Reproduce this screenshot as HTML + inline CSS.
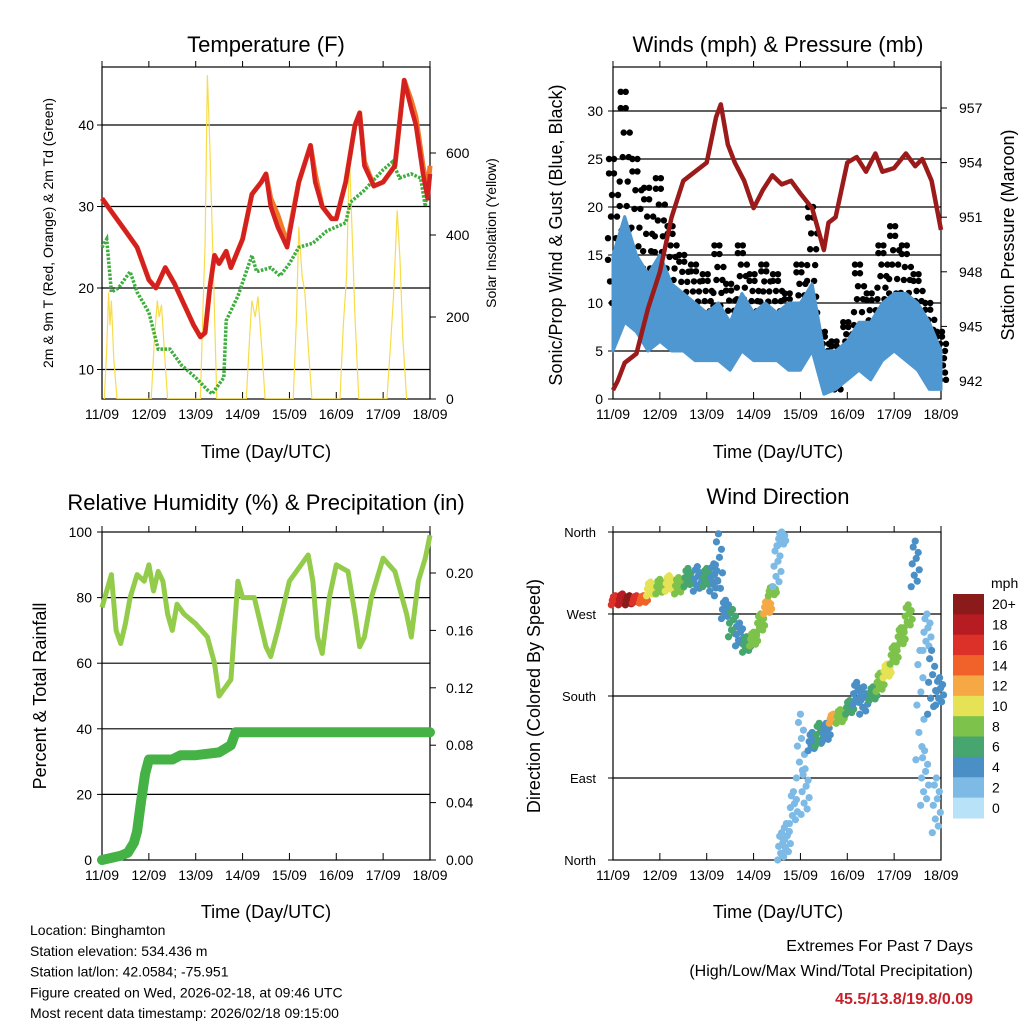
<!DOCTYPE html>
<html><head><meta charset="utf-8">
<style>
html,body{margin:0;padding:0;background:#fff;}
svg{display:block;font-family:"Liberation Sans",Arial,sans-serif;}
</style></head>
<body>
<svg id="chart" width="1024" height="1024" viewBox="0 0 1024 1024" xmlns="http://www.w3.org/2000/svg">
<rect width="1024" height="1024" fill="#fff"/>
<g id="layer"></g>
</svg>
<script>
// ---------- DATA ----------
const dayLabels = ["11/09","12/09","13/09","14/09","15/09","16/09","17/09","18/09"];
const tempTicks = [10,20,30,40];
const solarTicks = [0,200,400,600];
const windTicks = [0,5,10,15,20,25,30];
const presTicks = [942,945,948,951,954,957];
const rhTicks = [0,20,40,60,80,100];
const precTicks = ["0.00","0.04","0.08","0.12","0.16","0.20"];
const dirTicks = ["North","East","South","West","North"];
const speedLabels = ["20+","18","16","14","12","10","8","6","4","2","0"];
const speedColors = ["#8b1a1a","#b81c23","#dc3128","#f0622a","#f5a843","#e6e256","#7dc24b","#47a56f","#4a8fc6","#7dbbe6","#b8e2f8"];

const tempT = [0,0.25,0.5,0.75,1.0,1.15,1.35,1.55,1.75,1.95,2.1,2.2,2.3,2.4,2.5,2.65,2.75,3.0,3.2,3.4,3.5,3.6,3.75,3.95,4.2,4.45,4.55,4.7,4.9,5.0,5.2,5.4,5.5,5.6,5.8,6.0,6.25,6.45,6.6,6.7,6.85,6.95,7.0];
const tempV = [31,29,27,25,21,20,22.5,20.5,18,15.5,14,14.5,20,24,23,24.5,22.5,26,31.5,33,34,30,27.5,25,33,37.5,33,30,28.5,28.5,33,40,41.5,35,32.5,33,35,45.5,42,40,34,31,34];
const temp9V = [31,29,27,25,21,20,22.5,20.5,18,15.5,14,14.5,20,24,23,24.5,22.5,26,31.5,33,34,31,29,25.5,33,37.5,34,30,28.5,28.5,33,40,41.5,35.5,32.5,33,35,45.5,43,41,35,32,35];
const dewT = [0,0.1,0.2,0.35,0.6,0.75,1.0,1.2,1.45,1.7,2.0,2.25,2.35,2.6,2.65,2.9,3.2,3.3,3.6,3.8,4.0,4.2,4.5,4.8,5.2,5.3,5.6,6.0,6.2,6.35,6.6,6.8,6.9,7.0];
const dewV = [25,26,19.5,20,22,19.5,17,12.5,12.5,10.5,9,7.5,7,9,16,19,24,22,22.5,21.5,23,25,25.5,27,28,30.5,32,34.5,35.5,33.5,34,33.5,30,35];
const solarT = [0.05,0.1,0.14,0.17,0.2,0.25,0.32,1.05,1.12,1.18,1.22,1.27,1.33,1.4,2.1,2.15,2.2,2.25,2.3,2.38,2.45,3.08,3.15,3.2,3.27,3.33,3.4,3.48,4.08,4.15,4.2,4.27,4.33,4.4,4.48,5.08,5.15,5.22,5.28,5.34,5.4,5.48,6.08,6.15,6.22,6.3,6.36,6.42,6.5];
const solarV = [0,120,260,180,240,100,0,0,150,240,200,230,120,0,0,200,380,790,620,300,0,0,150,240,200,250,140,0,0,200,420,300,260,130,0,0,180,300,600,400,200,0,0,120,250,460,340,150,0];

const windT = [0,0.25,0.5,0.75,1.0,1.25,1.5,1.75,2.0,2.25,2.5,2.75,3.0,3.25,3.5,3.75,4.0,4.25,4.5,4.75,5.0,5.25,5.5,5.75,6.0,6.25,6.5,6.75,7.0];
const windLo = [5,8,7,5,6,5,5,4,4,4,3,5,4,4,4,3,3,5,0.5,1,2,3,2,4,5,4,3,1,1];
const windHi = [15,19,15,13,15,12,11,10,9,10,8,11,9,10,9,10,10,12,5,5,6,8,8,10,11,11,10,8,5];
const gustLo = [10,15,12,10,12,10,8,7,6,7,5,8,6,7,6,5,6,9,2,1,3,5,4,8,8,7,6,3,2];
const gustHi = [25,32,25,22,23,18,15,14,13,16,12,16,13,14,13,11,14,20,7,6,8,14,11,16,18,16,13,10,7];
const presT = [0,0.1,0.25,0.5,0.75,1.0,1.25,1.5,1.75,2.0,2.2,2.3,2.45,2.6,2.8,3.0,3.2,3.4,3.6,3.8,4.0,4.25,4.5,4.6,4.75,5.0,5.2,5.4,5.6,5.75,6.0,6.25,6.45,6.6,6.8,7.0];
const presV = [941.5,942,943,943.5,946,948,951,953,953.5,954,956.5,957.2,955,954,953,951.5,952.5,953.3,952.8,953,952.3,951.5,949.2,950.7,951,954,954.3,953.5,954.5,953.5,953.7,954.5,953.8,954.2,953,950.3];

const rhT = [0,0.1,0.2,0.3,0.4,0.5,0.6,0.75,0.9,1.0,1.1,1.2,1.3,1.4,1.5,1.6,1.75,2.0,2.25,2.4,2.5,2.6,2.75,2.85,2.9,3.0,3.25,3.5,3.6,3.75,4.0,4.25,4.4,4.5,4.6,4.7,4.85,5.0,5.25,5.4,5.5,5.6,5.75,6.0,6.25,6.5,6.6,6.75,6.9,7.0];
const rhV = [77,82,87,70,66,72,80,87,85,90,82,88,85,75,70,78,75,72,68,60,50,52,55,75,85,80,80,65,62,70,85,90,93,85,68,63,80,90,88,75,65,68,80,92,88,75,68,85,92,99];
const precT = [0,0.4,0.55,0.68,0.75,0.83,0.92,1.0,1.5,1.68,2.0,2.5,2.75,2.85,7.0];
const precV = [0,0.003,0.005,0.012,0.02,0.04,0.06,0.07,0.07,0.073,0.073,0.075,0.08,0.089,0.089];

const dirT  = [0.05,0.2,0.35,0.5,0.65,0.8,1.0,1.2,1.4,1.6,1.8,2.0,2.15,2.25,2.4,2.55,2.7,2.85,3.0,3.15,3.3,3.4,3.5,3.6,3.6,3.7,3.85,4.0,4.1,4.25,4.4,4.55,4.7,4.85,5.05,5.2,5.35,5.55,5.7,5.85,6.0,6.15,6.3,6.45,6.55,6.65,6.7,6.8,6.9,6.97];
const dirLo = [280,280,280,282,282,290,292,295,292,300,295,300,295,290,265,245,235,228,235,250,270,290,300,345,0,5,40,90,50,120,125,130,150,150,160,170,160,175,185,200,215,235,255,300,110,60,230,160,30,170];
const dirHi = [290,292,290,290,290,305,308,312,310,320,322,320,325,358,285,275,260,245,250,270,285,300,345,360,30,40,75,160,100,140,150,150,160,165,175,195,190,190,205,215,235,255,280,350,230,120,270,230,90,200];
const dirSpd= [16,18,20,16,14,10,8,10,8,6,4,6,4,4,4,6,4,6,8,8,12,8,2,2,2,2,2,2,2,4,6,4,12,8,6,4,4,6,8,10,8,8,8,4,2,2,2,4,2,4];

// ---------- HELPERS ----------
const NS = "http://www.w3.org/2000/svg";
const layer = document.getElementById("layer");
function mk(tag, attrs, parent){ const e=document.createElementNS(NS,tag); for(const k in attrs) e.setAttribute(k,attrs[k]); (parent||layer).appendChild(e); return e; }
function txt(s, x, y, size, anchor, parent, rot, weight, fill){
  const t = mk("text",{x:x,y:y,"font-size":size,"text-anchor":anchor||"middle",fill:fill||"#000"},parent);
  if(rot) t.setAttribute("transform","rotate("+rot+" "+x+" "+y+")");
  if(weight) t.setAttribute("font-weight",weight);
  t.textContent = s; return t;
}
function pathD(xs, ys){ return xs.map((v,i)=>(i?"L":"M")+v.toFixed(1)+","+ys[i].toFixed(1)).join(""); }

// Panel geometry
const P = {
  temp:{x0:102,x1:430,y0:67,y1:399},
  wind:{x0:613,x1:941,y0:67,y1:399},
  rh:{x0:102,x1:430,y0:532,y1:860},
  dir:{x0:613,x1:941,y0:532,y1:860}
};
function xs(p,t){ return p.x0 + t*(p.x1-p.x0)/7; }
const yTemp = v => 125 + (40-v)*8.15;
const ySolar = v => 399 - v*0.41;
const yWind = v => 399 - v*9.6;
const yPres = v => 381 - (v-942)*18.2;
const yRh = v => 860 - v*3.28;
const yPrec = v => 860 - v*1435;
const yDir = v => 860 - v*328/360;

function frame(p, name){
  const g = mk("g",{});
  
  
  for(let d=0; d<=7; d++){
    const x = xs(p,d);
    mk("line",{x1:x,y1:p.y1,x2:x,y2:p.y1-7,stroke:"#000","stroke-width":1},g);
    mk("line",{x1:x,y1:p.y0,x2:x,y2:p.y0-6,stroke:"#000","stroke-width":1},g);
    const lbl = txt(dayLabels[d], x, p.y1+20, 14, "middle", g);
    
    
  }
  return g;
}
function border(p, g){ mk("rect",{x:p.x0,y:p.y0,width:p.x1-p.x0,height:p.y1-p.y0,fill:"none",stroke:"#000","stroke-width":1.2},g); }
function gridH(p, y, g){ mk("line",{x1:p.x0,y1:y,x2:p.x1,y2:y,stroke:"#000","stroke-width":1.2},g); }
function leftTick(p,y,g){ mk("line",{x1:p.x0,y1:y,x2:p.x0-5,y2:y,stroke:"#000"},g); }
function rightTick(p,y,g){ mk("line",{x1:p.x1,y1:y,x2:p.x1+6,y2:y,stroke:"#000"},g); }

// ---------- PANEL 1: TEMPERATURE ----------
(function(){
  const p=P.temp;
  const g=frame(p,"temperature");
  tempTicks.forEach(v=>{ const y=yTemp(v); gridH(p,y,g); leftTick(p,y,g);
    const l=txt(String(v), p.x0-8, y+5, 14, "end", g);
    
     });
  solarTicks.forEach(v=>{ const y=ySolar(v); rightTick(p,y,g);
    const l=txt(String(v), p.x1+16, y+5, 14, "start", g);
    
     });
  const clip = mk("clipPath",{id:"c1"}); mk("rect",{x:p.x0,y:p.y0,width:p.x1-p.x0,height:p.y1-p.y0},clip);
  const s = mk("path",{d:pathD(solarT.map(t=>xs(p,t)), solarV.map(ySolar)),fill:"none",stroke:"#f7dc4a","stroke-width":1.2,"clip-path":"url(#c1)"});
  
  
  const d = mk("path",{d:pathD(dewT.map(t=>xs(p,t)), dewV.map(yTemp)),fill:"none",stroke:"#3dae3d","stroke-width":3.5,"stroke-dasharray":"2.5 1.5"});
  
  
  const o = mk("path",{d:pathD(tempT.map(t=>xs(p,t)), temp9V.map(yTemp)),fill:"none",stroke:"#f07a28","stroke-width":5,"stroke-linejoin":"round"});
  
  
  const r = mk("path",{d:pathD(tempT.map(t=>xs(p,t)), tempV.map(yTemp)),fill:"none",stroke:"#d42020","stroke-width":4.5,"stroke-linejoin":"round"});
  
  
  border(p,g);
  const t1=txt("Temperature (F)",266,52,22,"middle");
  
  
  const xl=txt("Time (Day/UTC)",266,458,18,"middle");
  
  
  const yl=txt("2m & 9m T (Red, Orange) & 2m Td (Green)",53,233,14,"middle",null,-90);
  
  
  const yr=txt("Solar Insolation (Yellow)",496,233,14,"middle",null,-90);
  
  
})();

// ---------- PANEL 2: WINDS ----------
(function(){
  const p=P.wind;
  const g=frame(p,"winds");
  windTicks.forEach(v=>{ const y=yWind(v); if(v>0) gridH(p,y,g); leftTick(p,y,g);
    const l=txt(String(v), p.x0-10, y+5, 14, "end", g);
    
     });
  presTicks.forEach(v=>{ const y=yPres(v); rightTick(p,y,g);
    const l=txt(String(v), p.x1+18, y+5, 14, "start", g);
    
     });
  // gust dots
  const gg = mk("g",{});
  
  
  const fr=[0,0.15,0.3,0.45,0.6,0.75,0.9,1.0];
  const off=[-5,3,-2,5,-4,1,-1,4];
  for(let i=0;i<windT.length;i++){
    for(let k=0;k<fr.length;k++){
      for(let j=0;j<2;j++){
        const v = gustLo[i] + (gustHi[i]-gustLo[i])*fr[(k+j*3)%fr.length];
        const c = mk("circle",{cx:xs(p,windT[i])+off[(k+j)%8]*(j?1:-1),cy:yWind(v),r:3.2,fill:"#000"},gg);
        
        
      }
    }
  }
  // wind band
  const xsW = windT.map(t=>xs(p,t));
  const band = mk("path",{d:pathD(xsW.concat(xsW.slice().reverse()), windHi.map(yWind).concat(windLo.map(yWind).reverse()))+"Z",fill:"#4f97d1",stroke:"#4f97d1","stroke-width":3,"stroke-linejoin":"round"});
  
  
  const pr = mk("path",{d:pathD(presT.map(t=>xs(p,t)), presV.map(yPres)),fill:"none",stroke:"#9b1b1b","stroke-width":4.5,"stroke-linejoin":"round"});
  
  
  border(p,g);
  const t1=txt("Winds (mph) & Pressure (mb)",778,52,22,"middle");
  
  
  const xl=txt("Time (Day/UTC)",778,458,18,"middle");
  
  
  const yl=txt("Sonic/Prop Wind & Gust (Blue, Black)",562,235,18,"middle",null,-90);
  
  
  const yr=txt("Station Pressure (Maroon)",1014,235,18,"middle",null,-90);
  
  
})();

// ---------- PANEL 3: RH & PRECIP ----------
(function(){
  const p=P.rh;
  const g=frame(p,"humidity");
  rhTicks.forEach(v=>{ const y=yRh(v); if(v>0&&v<100) gridH(p,y,g); leftTick(p,y,g);
    const l=txt(String(v), p.x0-10, y+5, 14, "end", g);
    
     });
  precTicks.forEach(v=>{ const y=yPrec(parseFloat(v)); rightTick(p,y,g);
    const l=txt(v, p.x1+16, y+5, 14, "start", g);
    
     });
  const rh = mk("path",{d:pathD(rhT.map(t=>xs(p,t)), rhV.map(yRh)),fill:"none",stroke:"#93cc4a","stroke-width":5,"stroke-linejoin":"round"});
  
  
  const pc = mk("path",{d:pathD(precT.map(t=>xs(p,t)), precV.map(yPrec)),fill:"none",stroke:"#45b245","stroke-width":10,"stroke-linejoin":"round","stroke-linecap":"round"});
  
  
  border(p,g);
  const t1=txt("Relative Humidity (%) & Precipitation (in)",266,510,22,"middle");
  
  
  const xl=txt("Time (Day/UTC)",266,918,18,"middle");
  
  
  const yl=txt("Percent & Total Rainfall",46,696,18,"middle",null,-90);
  
  
})();

// ---------- PANEL 4: WIND DIRECTION ----------
(function(){
  const p=P.dir;
  const g=frame(p,"direction");
  dirTicks.forEach((s,i)=>{ const y=yDir(i*90); if(i>0&&i<4) gridH(p,y,g); leftTick(p,y,g);
    const l=txt(s, p.x0-17, y+5, 13, "end", g);
    
     });
  function colorFor(s){ let idx = 10 - Math.min(10, Math.round(s/2)); return speedColors[idx]; }
  const dg = mk("g",{});
  
  
  const fr=[0,0.12,0.25,0.37,0.5,0.62,0.75,0.87,1.0];
  const off=[-4,2,-1,4,-3,1,3,-2,0];
  for(let i=0;i<dirT.length;i++){
    for(let k=0;k<fr.length;k++){
      const v = dirLo[i] + (dirHi[i]-dirLo[i])*fr[k];
      const c = mk("circle",{cx:xs(p,dirT[i])+off[k],cy:yDir(v),r:3.6,fill:colorFor(dirSpd[i])},dg);
      
      
    }
  }
  border(p,g);
  const t1=txt("Wind Direction",778,504,22,"middle");
  
  
  const xl=txt("Time (Day/UTC)",778,918,18,"middle");
  
  
  const yl=txt("Direction (Colored By Speed)",540,696,18,"middle",null,-90);
  
  
  // colorbar
  const cb = mk("g",{});
  
  
  const bh = 224/speedColors.length;
  speedColors.forEach((c,i)=>{
    const r = mk("rect",{x:953,y:594+i*bh,width:31,height:bh+0.5,fill:c},cb);
    
    
    const l = txt(speedLabels[i], 992, 594+i*bh+bh/2+5, 14, "start", cb);
    
    
  });
  const u = txt("mph", 991, 588, 14, "start", cb);
  
  
})();

// ---------- FOOTER ----------
const info = ["Location: Binghamton","Station elevation: 534.436 m","Station lat/lon: 42.0584; -75.951","Figure created on Wed, 2026-02-18, at 09:46 UTC","Most recent data timestamp: 2026/02/18 09:15:00"];
info.forEach((s,i)=>{ const t=txt(s,30,935+i*20.8,14,"start");
  
   });
const e1=txt("Extremes For Past 7 Days",973,951,16,"end");


const e2=txt("(High/Low/Max Wind/Total Precipitation)",973,976,16,"end");


const e3=txt("45.5/13.8/19.8/0.09",973,1004,16,"end",null,0,"bold","#c8202a");


</script>
</body></html>
